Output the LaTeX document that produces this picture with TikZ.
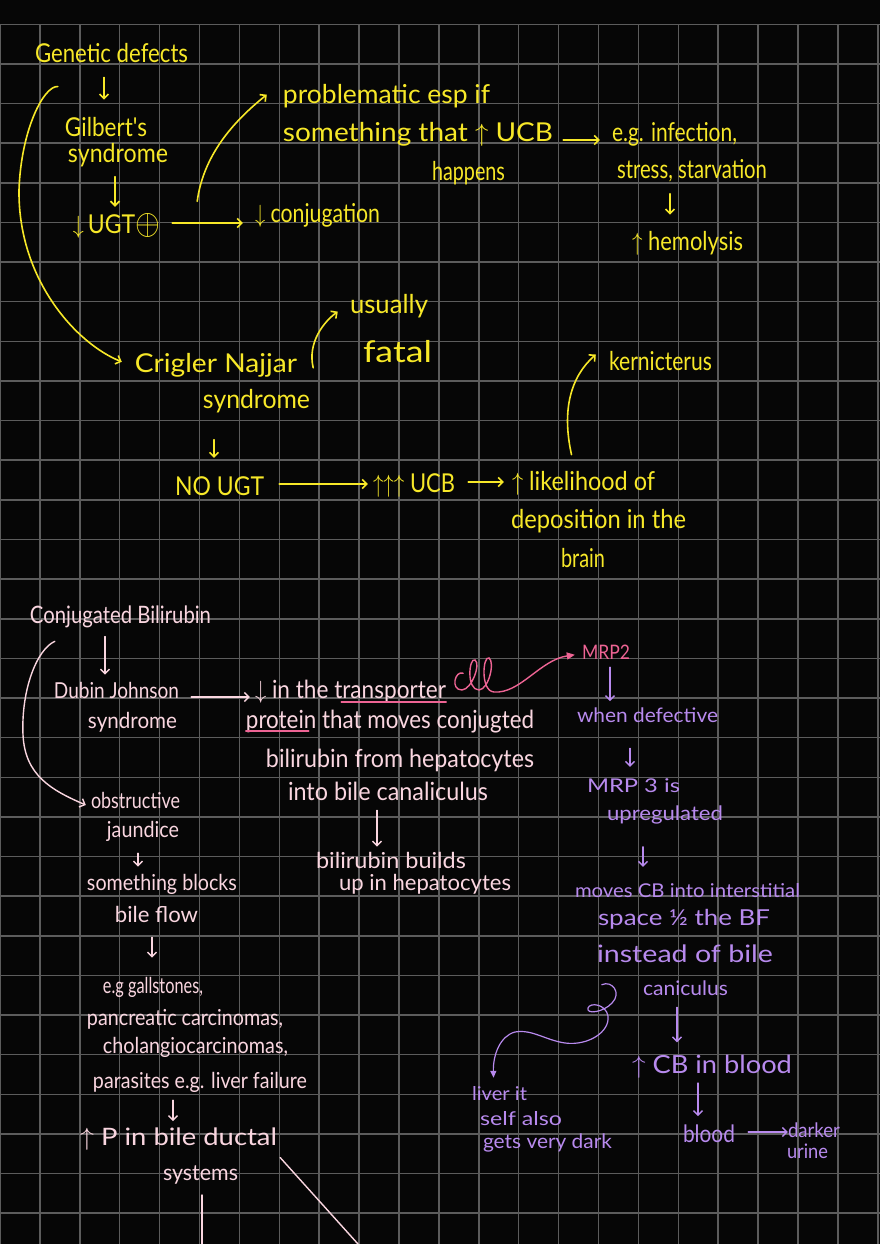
\documentclass[tikz,border=0pt]{standalone}
\usepackage{fontspec}
\usepackage{graphicx}
\setmainfont{Lato}
\newfontfamily\hand{Lato}
\usetikzlibrary{arrows.meta,calc}
\definecolor{bgc}{RGB}{6,6,6}
\definecolor{gridc}{RGB}{92,92,92}
\definecolor{hy}{RGB}{247,232,40}
\definecolor{hp}{RGB}{250,214,224}
\definecolor{hdp}{RGB}{238,100,148}
\definecolor{hv}{RGB}{184,138,238}
\newcommand\fw[2]{\resizebox{#1pt}{\height}{#2}}
\begin{document}
\begin{tikzpicture}[x=1pt,y=-1pt,
  tx/.style={inner sep=0pt, anchor=base, font=\hand\fontsize{#1}{#1}\selectfont},
  ylab/.style={tx=#1, text=hy}, ylab/.default=26pt,
  plab/.style={tx=#1, text=hp}, plab/.default=22pt,
  vlab/.style={tx=#1, text=hv}, vlab/.default=20pt,
  mlab/.style={tx=20pt, text=hdp},
  barb/.style={-{Straight Barb[length=4.5pt,width=9pt]}},
  yarr/.style={draw=hy, line width=1.6pt, line cap=round, barb},
  parr/.style={draw=hp, line width=1.4pt, line cap=round, barb},
  varr/.style={draw=hv, line width=1.4pt, line cap=round, barb},
  pline/.style={draw=hp, line width=1.4pt, line cap=round},
  ulp/.style={draw=hdp, line width=1.4pt, line cap=round},
  sq/.style={draw=hdp, line width=1.4pt, line cap=round, -{Triangle[length=8pt,width=7pt]}},
  vsq/.style={draw=hv, line width=1.2pt, line cap=round, -{Triangle[length=7pt,width=6pt]}},
  gridline/.style={draw=gridc, line width=1.5pt}
]
\useasboundingbox (0,0) rectangle (880,1244);
\fill[bgc] (0,0) rectangle (880,1244);
\foreach \i in {0,...,22} \draw[gridline] (39.9*\i,24.3) -- (39.9*\i,1244);
\foreach \j in {0,...,30} \draw[gridline] (0,24.3+39.63*\j) -- (880,24.3+39.63*\j);

% ---------- yellow: unconjugated ----------
\node[ylab] (gen) at (111.5,63) {\fw{153}{Genetic defects}};
\node[ylab] (gil1) at (106,137) {\fw{82}{Gilbert's}};
\node[ylab] (gil2) at (118,163) {\fw{100}{syndrome}};
\node[ylab] (ugt) at (116.5,233) {\fw{87}{$\downarrow$\,UGT\raisebox{-1pt}{\scalebox{1.45}{$\oplus$}}}};
\node[ylab] (conj) at (317.5,222) {\fw{125}{$\downarrow$ conjugation}};
\node[ylab] (prob1) at (386.5,104) {\fw{207}{problematic esp if}};
\node[ylab] (prob2) at (418,142) {\fw{270}{something that $\uparrow$ UCB}};
\node[ylab] (prob3) at (468.5,180) {\fw{73}{happens}};
\node[ylab] (inf1) at (674.5,142) {\fw{125}{e.g. infection,}};
\node[ylab] (inf2) at (692,178) {\fw{150}{stress, starvation}};
\node[ylab] (hem) at (687.5,250) {\fw{111}{$\uparrow$ hemolysis}};
\node[ylab] (cn1) at (216,372) {\fw{162}{Crigler Najjar}};
\node[ylab] (cn2) at (256.5,408) {\fw{107}{syndrome}};
\node[ylab] (fat1) at (389,313) {\fw{78}{usually}};
\node[ylab=30pt] (fat2) at (397.5,362) {\fw{69}{fatal}};
\node[ylab] (nougt) at (219.5,495) {\fw{89}{NO UGT}};
\node[ylab] (ucb) at (414,492) {\fw{82}{$\uparrow\uparrow\uparrow$ UCB}};
\node[ylab] (lik1) at (583.5,490) {\fw{143}{$\uparrow$ likelihood of}};
\node[ylab] (lik2) at (598.5,528) {\fw{175}{deposition in the}};
\node[ylab] (lik3) at (583,567) {\fw{44}{brain}};
\node[ylab] (kern) at (660.5,370) {\fw{103}{kernicterus}};

\draw[yarr, shorten <=14pt, shorten >=18pt] (gen.south -| 104,0) -- (gil1.north -| 104,0);
\draw[yarr, shorten <=9pt, shorten >=6pt] (gil2.south -| 115,0) -- (ugt.north -| 115,0);
\draw[yarr, shorten <=12pt, shorten >=12pt] (ugt.east |- 0,223) -- (conj.west |- 0,223);
\draw[yarr] ($(ugt.east)+(37,-24)$) .. controls +(6,-45) and +(-35,28) .. ($(prob1.west)+(-16,-2)$);
\draw[yarr, shorten <=10pt, shorten >=12pt] (prob2.east |- 0,140) -- (inf1.west |- 0,140);
\draw[yarr, shorten <=12pt, shorten >=16pt] (inf2.south -| 670,0) -- (hem.north -| 670,0);
\draw[yarr] ($(gen.west)+(23,33)$) .. controls +(-14,-1) and +(2,-60) .. (19,190) .. controls +(-1,90) and +(-45,-18) .. ($(cn1.west)+(-13,-3)$);
\draw[yarr] ($(cn1.east)+(16,3)$) .. controls +(-6,-25) and +(-14,10) .. ($(fat1.west)+(-12,6)$);
\draw[yarr, shorten <=27pt, shorten >=18pt] (cn2.south -| 214,0) -- (nougt.north -| 214,0);
\draw[yarr, shorten <=15pt, shorten >=5pt] (nougt.east |- 0,484) -- (ucb.west |- 0,484);
\draw[yarr, shorten <=13pt, shorten >=8pt] (ucb.east |- 0,482) -- (lik1.west |- 0,482);
\draw[yarr] ($(lik1.north)+(-12,-16)$) .. controls +(-10,-45) and +(-25,22) .. ($(kern.west)+(-13,-6)$);

% ---------- pink: conjugated ----------
\node[plab=24pt] (cb) at (120.5,623) {\fw{181}{Conjugated Bilirubin}};
\node[plab] (dj1) at (116.5,698) {\fw{125}{Dubin Johnson}};
\node[plab] (dj2) at (132.5,728) {\fw{89}{syndrome}};
\node[plab=25pt] (tp1) at (350.5,698) {\fw{191}{$\downarrow$ in the transporter}};
\node[plab=25pt] (tp2) at (390,728) {\fw{288}{protein that moves conjugted}};
\node[plab=25pt] (tp3) at (400,767) {\fw{268}{bilirubin from hepatocytes}};
\node[plab=25pt] (tp4) at (388,800) {\fw{200}{into bile canaliculus}};
\node[plab] (bb1) at (391,868) {\fw{150}{bilirubin builds}};
\node[plab] (bb2) at (425,890) {\fw{172}{up in hepatocytes}};
\node[plab] (ob1) at (135.5,808) {\fw{89}{obstructive}};
\node[plab] (ob2) at (143,837) {\fw{72}{jaundice}};
\node[plab] (sb1) at (162,890) {\fw{150}{something blocks}};
\node[plab] (sb2) at (156.5,922) {\fw{83}{bile flow}};
\node[plab] (eg1) at (153,993) {\fw{100}{e.g gallstones,}};
\node[plab] (eg2) at (185,1025) {\fw{196}{pancreatic carcinomas,}};
\node[plab] (eg3) at (195.5,1053) {\fw{185}{cholangiocarcinomas,}};
\node[plab] (eg4) at (200,1088) {\fw{214}{parasites e.g. liver failure}};
\node[plab=24pt] (pp1) at (178.5,1145) {\fw{197}{$\uparrow$ P in bile ductal}};
\node[plab] (pp2) at (200.5,1180) {\fw{75}{systems}};
\node[mlab] (mrp2) at (606,659) {\fw{48}{MRP2}};

\draw[ulp] ($(tp1.base east)+(-105,4)$) -- ($(tp1.base east)+(0,4)$);
\draw[ulp] ($(tp2.base west)+(0,3)$) -- ($(tp2.base west)+(63,3)$);

\draw[parr, shorten <=9pt, shorten >=7pt] (cb.south -| 105,0) -- (dj1.north -| 105,0);
\draw[parr, shorten <=12pt, shorten >=5pt] (dj1.east |- 0,697) -- (tp1.west |- 0,697);
\draw[sq] ($(tp1.east)+(17,-18)$) .. controls (455,670) and (450,690) .. (462,690)
  .. controls (472,689) and (481,664) .. (475,660) .. controls (469,657) and (466,690) .. (479,690)
  .. controls (489,689) and (495,662) .. (489,658) .. controls (483,655) and (480,691) .. (494,692)
  .. controls (520,694) and (540,660) .. ($(mrp2.west)+(-7,3)$);
\draw[parr, shorten <=10pt, shorten >=5pt] (tp4.south -| 377,0) -- (bb1.north -| 377,0);
\draw[parr] ($(cb.west)+(25,25)$) .. controls +(-18,8) and +(-2,-45) .. (23,735) .. controls +(2,40) and +(-35,-15) .. ($(ob1.west)+(-5,5)$);
\draw[parr, shorten <=12pt, shorten >=7pt] (ob2.south -| 138,0) -- (sb1.north -| 138,0);
\draw[parr, shorten <=15pt, shorten >=19pt] (sb2.south -| 152,0) -- (eg1.north -| 152,0);
\draw[parr, shorten <=8pt, shorten >=6pt] (eg4.south -| 173,0) -- (pp1.north -| 173,0);
\coordinate (bot1) at (202,1244);
\coordinate (bot2) at (358,1244);
\draw[pline, shorten <=11pt] (pp2.south -| bot1) -- (bot1);
\draw[pline] ($(pp1.east)+(3,19)$) -- (bot2);

% ---------- purple ----------
\node[vlab] (wd) at (647.5,722) {\fw{141}{when defective}};
\node[vlab=19pt] (mr1) at (633.5,792) {\fw{93}{MRP 3 is}};
\node[vlab] (mr2) at (665,820) {\fw{116}{upregulated}};
\node[vlab=19pt] (mv1) at (687.5,897) {\fw{225}{moves CB into interstitial}};
\node[vlab=22pt] (mv2) at (684,925) {\fw{172}{space ½ the BF}};
\node[vlab=24pt] (mv3) at (685,962) {\fw{176}{instead of bile}};
\node[vlab] (mv4) at (685.5,995) {\fw{85}{caniculus}};
\node[vlab=25pt] (cbb) at (712,1073) {\fw{160}{$\uparrow$ CB in blood}};
\node[vlab=24pt] (bl) at (709,1142) {\fw{52}{blood}};
\node[vlab] (dk1) at (814,1137) {\fw{52}{darker}};
\node[vlab] (dk2) at (807.5,1158) {\fw{41}{urine}};
\node[vlab=19pt] (lv1) at (499.5,1100) {\fw{55}{liver it}};
\node[vlab=19pt] (lv2) at (521,1125) {\fw{82}{self also}};
\node[vlab] (lv3) at (547.5,1148) {\fw{129}{gets very dark}};

\draw[varr, shorten <=8pt, shorten >=6pt] (mrp2.south -| 610,0) -- (wd.north -| 610,0);
\draw[varr, shorten <=26pt, shorten >=11pt] (wd.south -| 630,0) -- (mr1.north -| 630,0);
\draw[varr, shorten <=23pt, shorten >=16pt] (mr2.south -| 643,0) -- (mv1.north -| 643,0);
\draw[varr, shorten <=12pt, shorten >=12pt] (mv4.south -| 677,0) -- (cbb.north -| 677,0);
\draw[varr, shorten <=5pt, shorten >=8pt] (cbb.south -| 698,0) -- (bl.north -| 698,0);
\draw[varr, shorten <=13pt] (bl.east |- 0,1132) -- (dk1.west |- 0,1132);
\draw[vsq] ($(mv4.west)+(-41,-3)$) .. controls (612,980) and (622,993) .. (612,1003)
  .. controls (604,1012) and (586,1015) .. (588,1008) .. controls (590,1002) and (606,1004) .. (608,1016)
  .. controls (610,1032) and (588,1046) .. (565,1043) .. controls (545,1040) and (532,1029) .. (515,1032)
  .. controls (500,1036) and (493,1055) .. ($(lv1.north)+(-6,-8)$);
\end{tikzpicture}
\end{document}
